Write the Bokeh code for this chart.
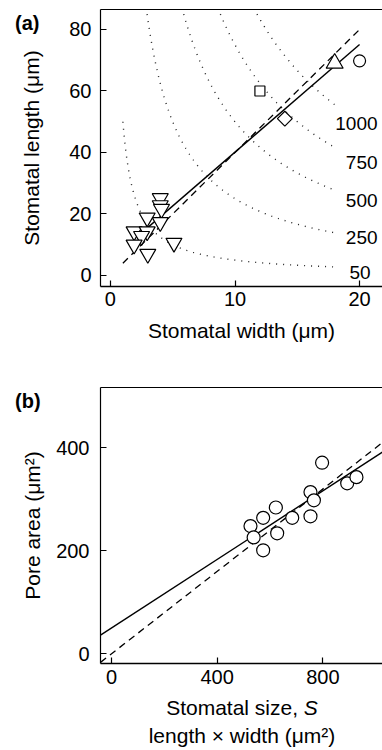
import numpy as np
from bokeh.plotting import figure
from bokeh.models import Range1d, LinearAxis, FixedTicker, ColumnDataSource, Div
from bokeh.layouts import column
from bokeh.embed import file_html
from bokeh.resources import INLINE
from bokeh.core.properties import value

# ---------------- Panel (a) data ----------------
tri_down_width = [4.0, 4.0, 4.1, 2.95, 4.0, 1.9, 2.95, 2.5, 1.9, 3.0, 5.1]
tri_down_length = [25.1, 22.8, 21.6, 18.8, 17.3, 14.3, 14.3, 12.8, 10.0, 7.0, 10.6]
square_width = [12.0]
square_length = [60.0]
diamond_width = [14.0]
diamond_length = [51.0]
tri_up_width = [18.0]
tri_up_length = [69.0]
circle_a_width = [20.0]
circle_a_length = [69.8]

contour_levels = [50, 250, 500, 750, 1000]
contour_labels = ["50", "250", "500", "750", "1000"]
contour_label_x = [20.88, 21.44, 21.44, 21.44, 21.44]
contour_label_y = [1.0, 12.2, 24.5, 36.8, 49.3]
contour_x_end = 18.0
contour_y_top = 85.0

fit_a_solid = [3.5, 5.1]      # slope, intercept
fit_a_solid_x = [2.5, 20.0]
fit_a_dashed = [4.0, 0.0]
fit_a_dashed_x = [1.0, 20.0]

# ---------------- Panel (b) data ----------------
size_S = [526, 538, 574, 574, 622, 627, 684, 753, 766, 753, 797, 892, 927]
pore_area = [248, 226, 264, 201, 284, 234, 264, 314, 298, 267, 371, 331, 343]
fit_b_solid = [0.333, 50.0]
fit_b_dashed = [0.4, 0.0]

FONT = "Liberation Sans"
TICK_FS = "20px"
LAB_FS = "21px"


def style(p, xticks, yticks, xstand, ystand, xlab_stand, ylab_stand):
    p.grid.visible = False
    p.outline_line_color = None
    p.background_fill_color = "white"
    p.border_fill_color = "white"
    xax = p.below[0]
    yax = p.left[0]
    xax.ticker = FixedTicker(ticks=xticks)
    yax.ticker = FixedTicker(ticks=yticks)
    for ax in (xax, yax):
        ax.major_tick_in = 6
        ax.major_tick_out = 0
        ax.minor_tick_in = 0
        ax.minor_tick_out = 0
        ax.major_tick_line_color = "black"
        ax.major_tick_line_width = 1.2
        ax.axis_line_color = "black"
        ax.major_label_text_font = FONT
        ax.major_label_text_font_size = TICK_FS
        ax.major_label_text_color = "black"
        ax.axis_label_text_font = FONT
        ax.axis_label_text_font_size = LAB_FS
        ax.axis_label_text_font_style = "normal"
        ax.axis_label_text_color = "black"
    xax.axis_line_width = 1.6
    yax.axis_line_width = 1.2
    xax.major_label_standoff = xstand
    yax.major_label_standoff = ystand
    xax.axis_label_standoff = xlab_stand
    yax.axis_label_standoff = ylab_stand
    top = LinearAxis(ticker=FixedTicker(ticks=[]), major_tick_in=0, major_tick_out=0,
                     minor_tick_in=0, minor_tick_out=0, major_label_standoff=0,
                     axis_line_color="black", axis_line_width=1.2,
                     major_label_text_font_size="0px")
    p.add_layout(top, "above")
    return xax, yax


def abs_div(html, left, top, width, height, size, weight="normal", align="left", line_height="1"):
    return Div(text=html, width=width, height=height,
               styles={"position": "absolute", "left": f"{left}px", "top": f"{top}px",
                       "font-family": FONT, "font-size": size, "font-weight": weight,
                       "color": "black", "text-align": align, "line-height": line_height,
                       "margin": "0", "padding": "0"})


# ---------------- Panel (a) ----------------
p1 = figure(width=382, height=366, x_range=Range1d(-0.797, 21.84), y_range=Range1d(-3.58, 86.5),
            output_backend="svg", toolbar_location=None,
            min_border_left=98, min_border_right=0, min_border_top=9, min_border_bottom=80)
xa, ya = style(p1, [0, 10, 20], [0, 20, 40, 60, 80], 5, 9, 10, 23)
xa.axis_label = "Stomatal width (μm)"
ya.axis_label = "Stomatal length (μm)"

for c in contour_levels:
    x0 = max(1.0, c / contour_y_top)
    xs = np.linspace(x0, contour_x_end, 200)
    p1.line(xs, c / xs, line_color="#222222", line_width=1.4, line_dash="1 6")

src_lab = ColumnDataSource(dict(x=contour_label_x, y=contour_label_y, t=contour_labels))
p1.text(x="x", y="y", text="t", source=src_lab, text_font=value(FONT), text_font_size=value("19px"),
        text_align="right", text_baseline="middle", text_color="black")

xs_d = np.array(fit_a_dashed_x)
p1.line(xs_d, fit_a_dashed[0] * xs_d + fit_a_dashed[1], line_color="black", line_width=1.3, line_dash="7 5")
xs_s = np.array(fit_a_solid_x)
p1.line(xs_s, fit_a_solid[0] * xs_s + fit_a_solid[1], line_color="black", line_width=1.4)

mk = dict(fill_color="white", line_color="black", line_width=1.2)
p1.scatter(tri_down_width, tri_down_length, marker="inverted_triangle", size=16, **mk)
p1.scatter(square_width, square_length, marker="square", size=10, **mk)
p1.scatter(diamond_width, diamond_length, marker="square", size=10.5, angle=np.pi / 4, **mk)
p1.scatter(tri_up_width, tri_up_length, marker="triangle", size=17, **mk)
p1.scatter(circle_a_width, circle_a_length, marker="circle", size=12, **mk)

# ---------------- Panel (b) ----------------
p2 = figure(width=382, height=384, x_range=Range1d(-41.6, 1025.6), y_range=Range1d(-18.8, 517),
            output_backend="svg", toolbar_location=None,
            min_border_left=100, min_border_right=0, min_border_top=21, min_border_bottom=87)
xb, yb = style(p2, [0, 400, 800], [0, 200, 400], 6, 11, 4, 9)
yb.axis_label = "Pore area (μm²)"

xr = np.array([p2.x_range.start, p2.x_range.end])
p2.line(xr, fit_b_dashed[0] * xr + fit_b_dashed[1], line_color="black", line_width=1.3, line_dash="7 5")
p2.line(xr, fit_b_solid[0] * xr + fit_b_solid[1], line_color="black", line_width=1.4)
p2.scatter(size_S, pore_area, marker="circle", size=13, **mk)

# ---------------- panel letters and two-line x label of (b) ----------------
div_a = abs_div("(a)", 15, 13, 40, 22, "20px", weight="bold")
div_b = abs_div("(b)", 15, 391, 40, 22, "20px", weight="bold")
div_xlab = abs_div("Stomatal size, <i>S</i><br>length × width (μm²)", 112, 694, 260, 56, "21px",
                   align="center", line_height="28px")

layout = column(p1, p2, div_a, div_b, div_xlab, spacing=0)
open("out.html", "w").write(file_html(layout, INLINE))
